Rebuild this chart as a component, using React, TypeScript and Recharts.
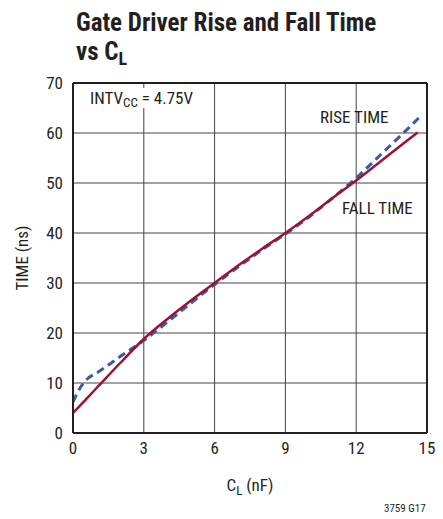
import { LineChart, Line, XAxis, YAxis, CartesianGrid, ReferenceLine } from "recharts";

const xTicks = [0, 3, 6, 9, 12, 15];
const yTicks = [0, 10, 20, 30, 40, 50, 60, 70];

const riseCl = [0, 0.3, 0.6, 1, 1.5, 2, 3, 4, 5, 6, 7, 8, 9, 10, 11, 12, 13, 14, 14.65];
const riseNs = [6.2, 9, 10.8, 12, 13.6, 15.3, 18.5, 22.2, 26, 29.7, 33.2, 36.6, 39.8, 43.2, 47, 51, 55.5, 60, 63];

const fallCl = [0, 1, 2, 3, 4, 5, 6, 7, 8, 9, 10, 11, 12, 13, 14, 14.6];
const fallNs = [4, 9, 14, 18.8, 22.8, 26.5, 30, 33.5, 36.8, 40, 43.4, 47, 50.5, 54.2, 57.9, 60.1];

const rise = riseCl.map((x, i) => ({ x, y: riseNs[i] }));
const fall = fallCl.map((x, i) => ({ x, y: fallNs[i] }));

const FONT = '"Liberation Sans Narrow", "Roboto Condensed", "Liberation Sans", sans-serif';
const ink = "#231f20";

export default function App() {
  return (
    <div style={{ position: "absolute", left: 0, top: 0, width: 443, height: 519, background: "#fff", fontFamily: FONT, color: ink }}>
      <div style={{ position: "absolute", left: 76, top: 8, fontSize: 25, fontWeight: 700, lineHeight: "29px" }}>
        Gate Driver Rise and Fall Time
        <br />
        vs C<sub style={{ fontSize: 18, verticalAlign: -5, lineHeight: 0 }}>L</sub>
      </div>
      <LineChart width={443} height={519} data={fall} margin={{ top: 83, right: 16, bottom: 56, left: 33 }}>
        <CartesianGrid stroke="#444" strokeWidth={1} horizontalValues={yTicks} verticalValues={xTicks} />
        <XAxis
          dataKey="x"
          type="number"
          domain={[0, 15]}
          ticks={xTicks}
          height={30}
          tickSize={0}
          tickMargin={9}
          axisLine={{ stroke: ink, strokeWidth: 2 }}
          tick={{ fontSize: 17, fill: ink, fontFamily: FONT }}
          allowDataOverflow
        />
        <YAxis
          type="number"
          domain={[0, 70]}
          ticks={yTicks}
          width={40}
          tickSize={0}
          tickMargin={10}
          axisLine={{ stroke: ink, strokeWidth: 2 }}
          tick={{ fontSize: 17, fill: ink, fontFamily: FONT }}
          allowDataOverflow
        />
        <ReferenceLine y={70} stroke={ink} strokeWidth={2} />
        <ReferenceLine x={15} stroke={ink} strokeWidth={2} />
        <Line data={rise} dataKey="y" type="monotone" stroke="#3b59a6" strokeWidth={3} strokeDasharray="8 5" dot={false} isAnimationActive={false} />
        <Line data={fall} dataKey="y" type="monotone" stroke="#9b1233" strokeWidth={2.5} dot={false} isAnimationActive={false} />
      </LineChart>
      <div style={{ position: "absolute", left: 88, top: 88, fontSize: 17, background: "#fff", padding: "0 2px" }}>
        INTV<sub style={{ fontSize: 13, verticalAlign: -3, lineHeight: 0 }}>CC</sub> = 4.75V
      </div>
      <div style={{ position: "absolute", left: 320, top: 107, fontSize: 17 }}>RISE TIME</div>
      <div style={{ position: "absolute", left: 342, top: 198, fontSize: 17 }}>FALL TIME</div>
      <div
        style={{ position: "absolute", left: 22, top: 258, fontSize: 17, transform: "translate(-50%, -50%) rotate(-90deg)", whiteSpace: "nowrap" }}
      >
        TIME (ns)
      </div>
      <div style={{ position: "absolute", left: 250, top: 485, fontSize: 17, transform: "translate(-50%, -50%)", whiteSpace: "nowrap" }}>
        C<sub style={{ fontSize: 13, verticalAlign: -4, lineHeight: 0 }}>L</sub> (nF)
      </div>
      <div style={{ position: "absolute", left: 384, top: 502, fontSize: 11 }}>3759 G17</div>
    </div>
  );
}
